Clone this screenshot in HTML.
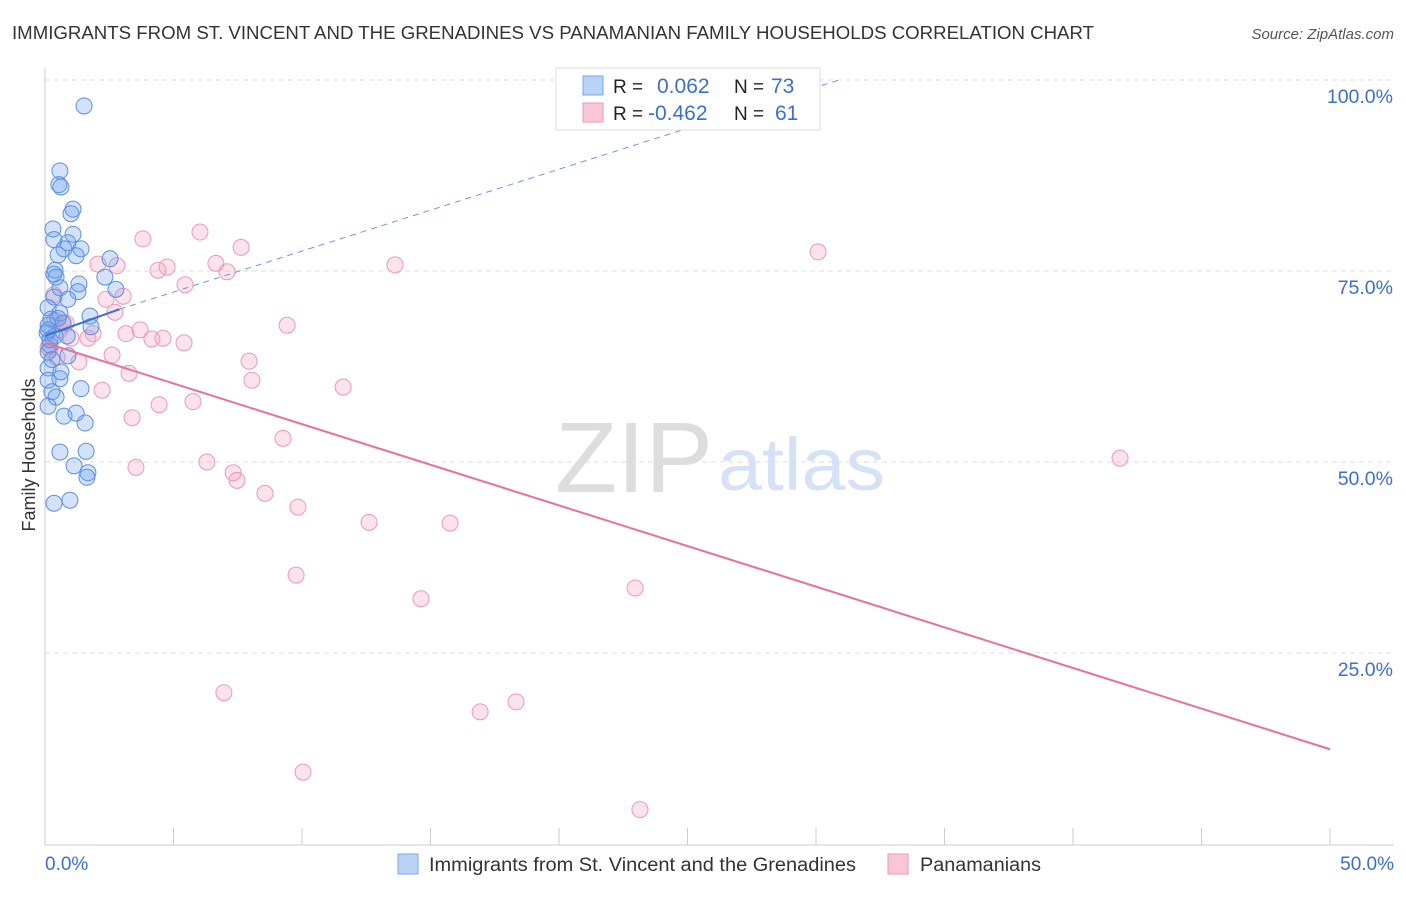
<!DOCTYPE html>
<html><head><meta charset="utf-8"><style>
body{margin:0;background:#fff;font-family:"Liberation Sans",sans-serif;}
svg text{font-family:"Liberation Sans",sans-serif;}
</style></head><body>
<svg id="chart" width="1406" height="892">
<text x="12" y="39" font-size="18" fill="#333" textLength="1082" lengthAdjust="spacingAndGlyphs">IMMIGRANTS FROM ST. VINCENT AND THE GRENADINES VS PANAMANIAN FAMILY HOUSEHOLDS CORRELATION CHART</text>
<text x="1394" y="39" font-size="15" fill="#555" font-style="italic" text-anchor="end">Source: ZipAtlas.com</text>
<text x="35" y="455" font-size="18" fill="#333" transform="rotate(-90 35 455)" text-anchor="middle">Family Households</text>
<text x="555" y="492" font-size="100" fill="#ddd" textLength="158" lengthAdjust="spacingAndGlyphs" font-family="Liberation Serif">ZIP</text>
<text x="718" y="490" font-size="74" fill="#d5e2f5" textLength="167" lengthAdjust="spacingAndGlyphs">atlas</text>
<g id="grid"></g><g id="marks"></g><g id="trends"></g>
<g>
<rect x="556" y="68" width="264" height="62" fill="#fff" stroke="#ddd"/>
<rect x="583" y="76" width="20" height="19" fill="#b9d3f7" stroke="#7aa6e8"/>
<rect x="583" y="103" width="20" height="19" fill="#f9c6d6" stroke="#e99ab5"/>
<text x="613" y="93" font-size="19" fill="#222">R =</text><text x="657" y="93" font-size="21" fill="#3a6fd0">0.062</text>
<text x="734" y="93" font-size="19" fill="#222">N =</text><text x="771" y="93" font-size="21" fill="#3a6fd0">73</text>
<text x="613" y="120" font-size="19" fill="#222">R =</text><text x="648" y="120" font-size="21" fill="#3a6fd0">-0.462</text>
<text x="734" y="120" font-size="19" fill="#222">N =</text><text x="775" y="120" font-size="21" fill="#3a6fd0">61</text>
</g>
<g>
<rect x="398" y="854" width="20" height="20" fill="#b9d3f7" stroke="#7aa6e8"/>
<text x="429" y="871" font-size="19" fill="#333" textLength="427" lengthAdjust="spacingAndGlyphs">Immigrants from St. Vincent and the Grenadines</text>
<rect x="888" y="854" width="20" height="20" fill="#f9c6d6" stroke="#e99ab5"/>
<text x="920" y="871" font-size="19" fill="#333" textLength="121" lengthAdjust="spacingAndGlyphs">Panamanians</text>
</g>
</svg>
<script>
const blueX=[1.52,0.58,0.54,0.62,1.09,1.01,0.31,1.09,0.35,0.89,1.40,0.74,0.51,1.21,2.53,0.39,0.35,0.43,2.33,1.32,0.58,2.76,1.28,0.35,0.89,0.12,0.58,1.75,0.23,0.12,0.70,1.79,0.08,0.39,0.86,0.19,0.12,0.89,0.27,0.12,0.62,0.58,0.12,1.40,0.27,0.43,0.12,0.74,1.21,1.56,0.58,1.60,1.13,1.67,1.63,0.97,0.35,0.12,0.19,0.51];
const blueY=[96.6,88.1,86.3,86.0,83.1,82.5,80.5,79.8,79.1,78.7,77.9,77.9,77.1,77.0,76.6,75.1,74.6,74.2,74.2,73.3,72.8,72.6,72.3,71.6,71.3,70.2,69.5,69.1,68.7,67.9,68.2,67.7,66.9,66.5,66.5,65.3,64.4,63.9,63.4,62.3,61.8,60.9,60.7,59.6,59.2,58.5,57.3,56.0,56.4,55.1,51.3,51.4,49.5,48.6,48.0,45.0,44.6,67.3,66.0,68.8];
const pinkX=[3.81,6.03,7.63,13.62,30.08,2.06,2.80,4.40,4.75,6.65,7.08,5.45,2.37,3.04,0.35,2.72,0.70,9.42,3.15,4.16,5.41,3.70,4.59,1.87,1.01,0.58,1.67,2.61,0.47,1.32,7.94,8.05,3.27,11.60,2.22,5.76,4.44,3.39,9.26,6.30,3.54,7.32,7.47,8.56,9.84,12.61,15.76,41.83,9.77,14.63,22.96,6.96,18.33,16.93,10.04,23.15,0.19,0.12,0.39,0.82];
const pinkY=[79.2,80.1,78.1,75.8,77.5,75.9,75.7,75.1,75.5,76.0,74.9,73.2,71.3,71.7,71.9,69.6,68.2,67.9,66.8,66.1,65.6,67.3,66.2,66.8,66.2,67.3,66.2,64.0,63.7,63.1,63.2,60.7,61.6,59.8,59.4,57.9,57.5,55.8,53.1,50.0,49.3,48.6,47.6,45.9,44.1,42.1,42.0,50.5,35.2,32.1,33.5,19.8,18.6,17.3,9.4,4.5,64.7,65.0,68.6,68.2];
const blueTrend=[[0,66.5],[2.9,70.0],[30.9,100]];
const pinkTrend=[[0,65.6],[50,12.4]];
const yTicks=[25,50,75,100];
const xTicks=[0,5,10,15,20,25,30,35,40,45,50];
const NS="http://www.w3.org/2000/svg";
const sx=v=>45+v*25.7, sy=v=>844-v*7.64;
function mk(t,a,p){const e=document.createElementNS(NS,t);for(const k in a)e.setAttribute(k,a[k]);p.appendChild(e);return e;}
const g=document.getElementById('grid');
yTicks.forEach(t=>{
 const l=mk('line',{x1:45,x2:1394,y1:sy(t),y2:sy(t),stroke:'#ddd','stroke-dasharray':'5,4'},g);
 
 
 const tx=mk('text',{x:1393,y:sy(t)+23,'font-size':19.5,fill:'#3a6fd0','text-anchor':'end'},g);tx.textContent=t.toFixed(1)+'%';
 
 
});
mk('line',{x1:45,x2:45,y1:68,y2:845,stroke:'#ccc'},g);
mk('line',{x1:45,x2:1394,y1:845,y2:845,stroke:'#ccc'},g);
xTicks.forEach(t=>{const l=mk('line',{x1:sx(t),x2:sx(t),y1:828,y2:845,stroke:'#ccc'},g);
 
 });
[[0,'start',45],[50,'end',1394]].forEach(([t,a,x])=>{const tx=mk('text',{x:x,y:870,'font-size':19,fill:'#3a6fd0','text-anchor':a},g);tx.textContent=t.toFixed(1)+'%';
 
 });
const m=document.getElementById('marks');
pinkX.forEach((x,i)=>{const c=mk('circle',{cx:sx(x),cy:sy(pinkY[i]),r:8,fill:'rgba(244,160,190,0.3)',stroke:'#eb9ab6','stroke-width':1},m);
 
 });
blueX.forEach((x,i)=>{const c=mk('circle',{cx:sx(x),cy:sy(blueY[i]),r:8,fill:'rgba(110,160,235,0.3)',stroke:'#5d8fe0','stroke-width':1},m);
 
 });
const tr=document.getElementById('trends');
let l=mk('line',{x1:sx(blueTrend[0][0]),y1:sy(blueTrend[0][1]),x2:sx(blueTrend[1][0]),y2:sy(blueTrend[1][1]),stroke:'#3a6fd0','stroke-width':2},tr);


l=mk('line',{x1:sx(blueTrend[1][0]),y1:sy(blueTrend[1][1]),x2:sx(blueTrend[2][0]),y2:sy(blueTrend[2][1]),stroke:'#6a98e0','stroke-width':1,'stroke-dasharray':'6,5'},tr);


l=mk('line',{x1:sx(pinkTrend[0][0]),y1:sy(pinkTrend[0][1]),x2:sx(pinkTrend[1][0]),y2:sy(pinkTrend[1][1]),stroke:'#e8709a','stroke-width':2},tr);


</script>
</body></html>
